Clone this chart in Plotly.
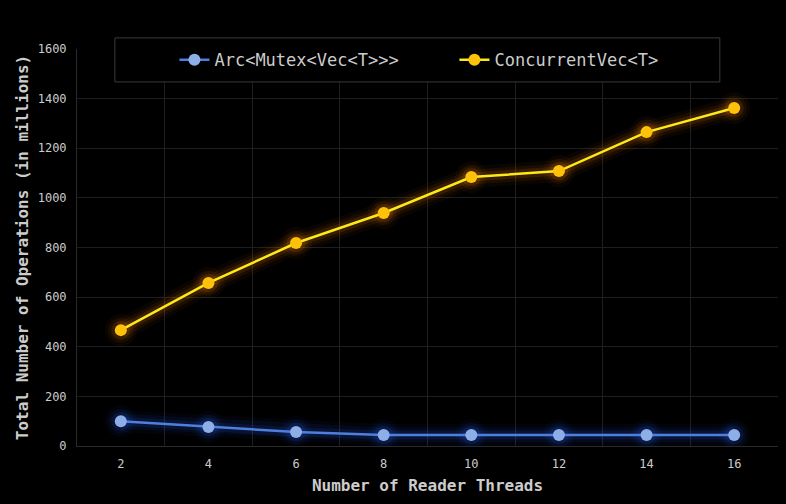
import plotly.graph_objects as go

# Данные
threads = ["2", "4", "6", "8", "10", "12", "14", "16"]
mutex_ops = [100, 77, 56, 44, 44, 44, 44, 44]
concurrent_ops = [467, 657, 818, 939, 1084, 1108, 1265, 1362]

series = [
    ("Arc<Mutex<Vec<T>>>", mutex_ops, "#4f7fdc", "#8eaee8", "rgba(40,100,255,{})"),
    ("ConcurrentVec<T>", concurrent_ops, "#ffe81a", "#ffc20a", "rgba(255,140,0,{})"),
]

fig = go.Figure()

for name, vals, line_col, mark_col, glow in series:
    # "свечение" под линией: несколько широких полупрозрачных слоёв
    for w, a in [(22, 0.04), (15, 0.07), (9, 0.12)]:
        fig.add_trace(go.Scatter(x=threads, y=vals, mode="lines+markers",
                                 line=dict(color=glow.format(a), width=w),
                                 marker=dict(size=w + 10, color=glow.format(a)),
                                 hoverinfo="skip", showlegend=False))
    fig.add_trace(go.Scatter(x=threads, y=vals, name=name, mode="lines+markers",
                             line=dict(color=line_col, width=2.5),
                             marker=dict(size=12, color=mark_col)))

font = "DejaVu Sans Mono"
fig.update_layout(
    width=786, height=504,
    margin=dict(l=77, r=8, t=49, b=58, autoexpand=False),
    paper_bgcolor="#000000", plot_bgcolor="#000000",
    font=dict(family=font, color="#cccccc", size=12),
    # рамка легенды отдельной фигурой, чтобы были широкие поля
    shapes=[dict(type="rect", xref="paper", yref="paper",
                 x0=0.054, x1=0.917, y0=0.917, y1=1.028,
                 line=dict(color="#3a3a3a", width=1), fillcolor="#000000",
                 layer="above")],
    legend=dict(orientation="h", x=0.139, xanchor="left", y=0.972, yanchor="middle",
                bgcolor="rgba(0,0,0,0)", borderwidth=0,
                font=dict(size=17, color="#cccccc"), entrywidth=235,
                itemwidth=30),
    xaxis=dict(type="category", tickson="boundaries", ticks="", automargin=False,
               range=[-0.5, len(threads) - 0.5], ticklabelstandoff=7,
               title=dict(text="Number of Reader Threads", standoff=9,
                          font=dict(size=16, family=font, weight="bold")),
               showgrid=True, gridcolor="#1e1e1e", showline=True,
               linecolor="#2a2a2a", zeroline=False),
    yaxis=dict(range=[0, 1600], dtick=200, automargin=False, ticklabelstandoff=7,
               title=dict(text="Total Number of Operations (in millions)", standoff=5,
                          font=dict(size=16, family=font, weight="bold")),
               showgrid=True, gridcolor="#1e1e1e", zeroline=True,
               zerolinecolor="#2a2a2a", showline=True, linecolor="#2a2a2a"),
)

fig.write_html("out.html", config={"displayModeBar": False},
               post_script="document.body.style.margin='0';"
                           "document.body.style.background='#000';")
